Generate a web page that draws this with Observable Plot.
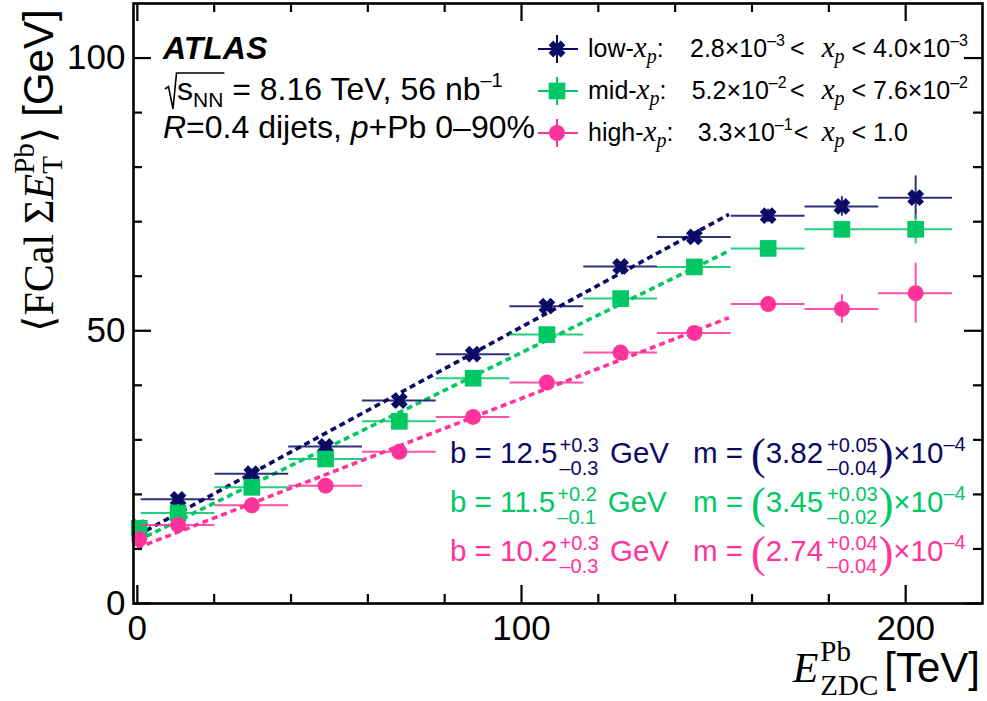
<!DOCTYPE html>
<html><head><meta charset="utf-8">
<script src="https://cdn.jsdelivr.net/npm/d3@7"></script>
<script src="https://cdn.jsdelivr.net/npm/@observablehq/plot@0.6"></script>
<style>body{margin:0;background:#fff}svg text{white-space:pre}</style>
</head><body><div id="chart"></div>
<script>
// ---------- data ----------
const binLo     = [0.0, 1.0, 20.2, 39.4, 58.6, 77.8, 97.0, 116.2, 135.4, 154.6, 173.8, 193.0];
const binHi     = [1.0, 20.2, 39.4, 58.6, 77.8, 97.0, 116.2, 135.4, 154.6, 173.8, 193.0, 212.2];
const binCenter = [0.5, 10.6, 29.8, 49.0, 68.2, 87.4, 106.6, 125.8, 145.0, 164.2, 183.4, 202.6];
const lowY  = [13.9, 19.1, 23.8, 28.8, 37.2, 45.7, 54.5, 61.8, 67.2, 71.1, 72.8, 74.4];
const midY  = [13.8, 16.6, 21.3, 26.5, 33.4, 41.3, 49.3, 55.9, 61.7, 65.1, 68.6, 68.6];
const highY = [11.8, 14.4, 18.0, 21.6, 27.8, 34.2, 40.5, 46.0, 49.6, 54.9, 54.0, 56.9];
const lowErr  = [0.3, 0.3, 0.3, 0.3, 0.4, 0.4, 0.5, 0.6, 0.8, 1.2, 1.8, 4.0];
const midErr  = [0.3, 0.3, 0.3, 0.3, 0.3, 0.4, 0.4, 0.5, 0.6, 0.8, 1.0, 2.7];
const highErr = [0.3, 0.3, 0.3, 0.4, 0.4, 0.5, 0.5, 0.6, 0.8, 1.0, 2.6, 5.5];
const seriesNames  = ["low", "mid", "high"];
const seriesColors = ["#0b0b66", "#00c864", "#ff3399"];
const fitB  = [12.5, 11.5, 10.2];
const fitBUp = ["+0.3", "+0.2", "+0.3"];
const fitBDn = ["\u20130.3", "\u20130.1", "\u20130.3"];
const fitM  = [3.82e-4, 3.45e-4, 2.74e-4];
const fitMUp = ["+0.05", "+0.03", "+0.04"];
const fitMDn = ["\u20130.04", "\u20130.02", "\u20130.04"];
const fitRange = [0, 154];
const legLowMant = ["2.8", "5.2", "3.3"];
const legLowExp  = ["\u20133", "\u20132", "\u20131"];
const legHighMant = ["4.0", "7.6", "1.0"];
const legHighExp  = ["\u20133", "\u20132", null];
const xMajor = [0, 100, 200];
const xMinor = [20, 40, 60, 80, 120, 140, 160, 180];
const yMajor = [0, 50, 100];
const yMinor = [10, 20, 30, 40, 60, 70, 80, 90];

// ---------- build ----------
const sans = "'Liberation Sans', Arial, Helvetica, sans-serif";
const serif = "'Liberation Serif', 'Times New Roman', 'DejaVu Serif', serif";
const W = 987, H = 701, mL = 133, mR = 5, mT = 3, mB = 98;
const innerW = W - mL - mR, innerH = H - mT - mB;

const fatX = { draw(ctx, size) {
  const r = Math.sqrt(size / Math.PI), w = r * 0.38, a = r, c = Math.SQRT1_2;
  const pts = [[-w,-a],[w,-a],[w,-w],[a,-w],[a,w],[w,w],[w,a],[-w,a],[-w,w],[-a,w],[-a,-w],[-w,-w]];
  pts.forEach(([x, y], i) => { const X = (x - y) * c, Y = (x + y) * c; i ? ctx.lineTo(X, Y) : ctx.moveTo(X, Y); });
  ctx.closePath();
}};
const symbols = [fatX, d3.symbolSquare, d3.symbolCircle];
const radii = [8.6, 9.4, 8.0];

const ySets = [lowY, midY, highY], eSets = [lowErr, midErr, highErr];
const seriesRows = seriesNames.map((s, i) => binCenter.map((x, j) => ({
  series: s, x, lo: binLo[j], hi: binHi[j], y: ySets[i][j], e: eSets[i][j]
})));
const fitData = seriesNames.flatMap((s, i) => fitRange.map(x => ({series: s, x, y: fitB[i] + fitM[i] * 1000 * x})));

const seriesMarks = seriesRows.flatMap((rows, i) => [
  Plot.ruleY(rows, {y: "y", x1: "lo", x2: "hi", stroke: seriesColors[i], strokeWidth: 2, strokeOpacity: 0.85}),
  Plot.ruleX(rows, {x: "x", y1: d => d.y - d.e, y2: d => d.y + d.e, stroke: seriesColors[i], strokeWidth: 2, strokeOpacity: 0.85}),
  Plot.dot(rows, {x: "x", y: "y", symbol: symbols[i], r: radii[i], fill: seriesColors[i], stroke: "none"})
]);

const tk = 2.2;
const plot = Plot.plot({
  width: W, height: H, marginLeft: mL, marginRight: mR, marginTop: mT, marginBottom: mB,
  style: {fontFamily: sans, fontSize: "35px", background: "white", color: "black"},
  x: {domain: [-1, 220], label: null},
  y: {domain: [0, 110], label: null},
  marks: [
    Plot.line(fitData, {x: "x", y: "y", z: "series", stroke: d => seriesColors[seriesNames.indexOf(d.series)],
      strokeWidth: 3.6, strokeDasharray: "6,4", strokeLinecap: "butt"}),
    ...seriesMarks,
    Plot.ruleX(xMajor, {x: d => d, insetTop: innerH - 18, strokeWidth: tk}),
    Plot.ruleX(xMajor, {x: d => d, insetBottom: innerH - 18, strokeWidth: tk}),
    Plot.ruleX(xMinor, {x: d => d, insetTop: innerH - 9, strokeWidth: tk}),
    Plot.ruleX(xMinor, {x: d => d, insetBottom: innerH - 9, strokeWidth: tk}),
    Plot.ruleY(yMajor, {y: d => d, insetRight: innerW - 18, strokeWidth: tk}),
    Plot.ruleY(yMajor, {y: d => d, insetLeft: innerW - 18, strokeWidth: tk}),
    Plot.ruleY(yMinor, {y: d => d, insetRight: innerW - 9, strokeWidth: tk}),
    Plot.ruleY(yMinor, {y: d => d, insetLeft: innerW - 9, strokeWidth: tk}),
    Plot.frame({stroke: "black", strokeWidth: 2.6}),
    Plot.axisX(xMajor, {tickSize: 0, tickPadding: 12, label: null}),
    Plot.axisY(yMajor, {tickSize: 0, tickPadding: 8, label: null})
  ]
});
document.getElementById("chart").appendChild(plot);
const svg = d3.select(plot);

// ---------- rich text helper ----------
function addText(g, x, y, p, def) {
  const t = g.append("text").attr("x", x).attr("y", y)
    .attr("text-anchor", "start")
    .attr("font-family", p.ff || def.ff).attr("font-size", p.fs || def.fs)
    .attr("font-style", p.fi ? "italic" : "normal").attr("font-weight", p.fw || "normal")
    .style("white-space", "pre").text(p.t);
  return t;
}
function rich({x, y, parts, fill = "black", ff = sans, fs = 30, anchor = "start", rotate = 0}) {
  const g = svg.append("g").attr("fill", fill).attr("text-anchor", "start");
  let cx = 0; const pos = [];
  for (const p of parts) {
    if (p.at != null) cx = p.at - x;
    cx += p.dx || 0;
    pos.push(cx);
    if (p.stack) {
      let w = 0;
      for (const q of p.stack) { const t = addText(g, cx, q.dy || 0, q, {ff, fs}); w = Math.max(w, t.node().getComputedTextLength()); }
      cx += w;
    } else {
      const t = addText(g, cx, p.dy || 0, p, {ff, fs});
      cx += t.node().getComputedTextLength();
    }
    pos.push(cx);
    cx += p.after || 0;
  }
  const shift = anchor === "end" ? -cx : 0;
  g.attr("transform", `translate(${x},${y}) rotate(${rotate}) translate(${shift},0)`);
  return {g, pos, width: cx};
}

// ---------- ATLAS label ----------
rich({x: 163, y: 59, fs: 32, parts: [{t: "ATLAS", fw: "bold", fi: true}]});
const l2 = rich({x: 177, y: 100, fs: 32, parts: [
  {t: "s"}, {t: "NN", fs: 21, dy: 7}, {t: " = 8.16 TeV, 56 nb"}, {t: "\u20131", fs: 20, dy: -13}
]});
svg.append("path").attr("fill", "none").attr("stroke", "black").attr("stroke-width", 1.6)
  .attr("d", `M165,89 L168.5,86.5 L173,109 L176.5,73 H${177 + l2.pos[3] + 1}`);
rich({x: 163, y: 138, fs: 32, parts: [
  {t: "R", fi: true}, {t: "=0.4 dijets,", after: 9}, {t: "p", fi: true}, {t: "+Pb 0\u201390%"}
]});

// ---------- legend ----------
const legYc = [49, 91, 133];
const legLowX = [690, 691.7, 697.7];
const legLtX = [790, 790, null];
seriesNames.forEach((s, i) => {
  const yc = legYc[i], col = seriesColors[i];
  svg.append("line").attr("x1", 538).attr("x2", 578).attr("y1", yc).attr("y2", yc).attr("stroke", col).attr("stroke-width", 2);
  svg.append("line").attr("x1", 557).attr("x2", 557).attr("y1", yc - 14).attr("y2", yc + 14).attr("stroke", col).attr("stroke-width", 2);
  svg.append("path").attr("transform", `translate(557,${yc})`).attr("fill", col)
    .attr("d", d3.symbol().type(symbols[i]).size(Math.PI * radii[i] * radii[i])());
  const yb = yc + 8;
  const parts = [
    {t: s + "-"}, {t: "x", ff: serif, fi: true, fs: 29}, {t: "p", ff: serif, fi: true, fs: 20, dy: 6}, {t: ":"},
    {at: legLowX[i], t: legLowMant[i] + "\u00d710"}, {t: legLowExp[i], fs: 16, dy: -11},
    {at: legLtX[i], dx: legLtX[i] == null ? 1 : 0, t: "<"},
    {at: 821.7, t: "x", ff: serif, fi: true, fs: 29}, {t: "p", ff: serif, fi: true, fs: 20, dy: 6},
    {t: " < " + legHighMant[i] + (legHighExp[i] ? "\u00d710" : "")}
  ];
  if (legHighExp[i]) parts.push({t: legHighExp[i], fs: 16, dy: -11});
  rich({x: 588, y: yb, fs: 25, parts});
});

// ---------- fit results ----------
const fitYb = [463, 512, 561];
seriesNames.forEach((s, i) => {
  rich({x: 450, y: fitYb[i], fs: 29.5, fill: seriesColors[i], parts: [
    {t: "b = " + fitB[i].toFixed(1)},
    {dx: 2, stack: [{t: fitBUp[i], fs: 20, dy: -11}, {t: fitBDn[i], fs: 20, dy: 12}]},
    {dx: 11, t: "GeV"},
    {at: 693, t: "m =", after: 8},
    {t: "(", fs: 44, dy: 6, ff: serif},
    {t: (fitM[i] * 1e4).toFixed(2)},
    {dx: 4, stack: [{t: fitMUp[i], fs: 20, dy: -11}, {t: fitMDn[i], fs: 20, dy: 12}]},
    {dx: 1, t: ")", fs: 44, dy: 6, ff: serif},
    {t: "\u00d710"}, {t: "\u20134", fs: 20, dy: -12}
  ]});
});

// ---------- axis titles ----------
rich({x: 53, y: 332, fs: 42, rotate: -90, parts: [
  {t: "\u27e8", ff: serif}, {t: "FCal", ff: serif, after: 10}, {t: "\u03a3", ff: serif}, {t: "E", ff: serif, fi: true},
  {stack: [{t: "Pb", ff: serif, fs: 29, dy: -19}, {t: "T", ff: serif, fs: 29, dy: 9}]},
  {t: "\u27e9", ff: serif, after: 10}, {t: "[GeV]"}
]});
rich({x: 980, y: 682, fs: 42, anchor: "end", parts: [
  {t: "E", ff: serif, fi: true, after: 2},
  {stack: [{t: "Pb", ff: serif, fs: 29, dy: -21}, {t: "ZDC", ff: serif, fs: 29, dy: 13}], after: 6},
  {t: "[TeV]"}
]});
</script>
</body></html>
